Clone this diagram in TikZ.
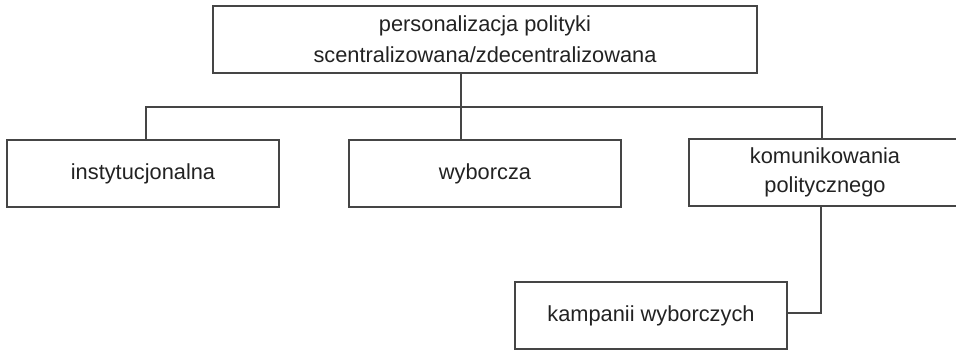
\documentclass[tikz,border=0pt]{standalone}
\usepackage{fontspec}
\setmainfont{Liberation Sans}
\usepackage{xcolor}
\usepackage{tikz}
\usetikzlibrary{positioning}

\definecolor{linegray}{HTML}{454545}
\definecolor{textgray}{HTML}{222222}

\tikzset{
  box/.style={draw=linegray, line width=0.8pt, minimum width=136pt, minimum height=33.5pt,
    inner sep=2pt, outer sep=0pt, align=center, text=textgray,
    font=\fontsize{10.9pt}{14.5pt}\selectfont},
  wide/.style={box, minimum width=272pt, font=\fontsize{10.9pt}{15.5pt}\selectfont},
  link/.style={draw=linegray, line width=0.8pt}
}

\begin{document}
\begin{tikzpicture}

     \useasboundingbox (0,0) rectangle (478pt,-174.5pt);
     \clip (0,0) rectangle (478pt,-174.5pt);

     % Define nodes
     \node[wide] at (242.5pt,-19.75pt) (pers) {personalizacja polityki\\scentralizowana/zdecentralizowana};
     \node[box, below=33.5pt of pers]        (wyb)  {wyborcza};
     \node[box, left=35pt of wyb]            (inst) {instytucjonalna};
     \node[box, right=34pt of wyb, yshift=0.5pt] (kom)  {komunikowania\\politycznego};
     \node[box, below=38pt of kom, xshift=-87pt] (kamp) {kampanii wyborczych};
     \coordinate[below=17pt of pers.south, xshift=-12pt] (hub);

     % Connect the nodes
     \draw[link] (hub |- pers.south) -- (hub) ;
     \draw[link] (hub) -| ([xshift=1.5pt]inst.north) ;
     \draw[link] (hub) -- (hub |- wyb.north) ;
     \draw[link] (hub) -| ([xshift=-1.5pt]kom.north) ;
     \draw[link] ([xshift=-2pt]kom.south) |- ([yshift=1.25pt]kamp.east) ;

\end{tikzpicture}
\end{document}
